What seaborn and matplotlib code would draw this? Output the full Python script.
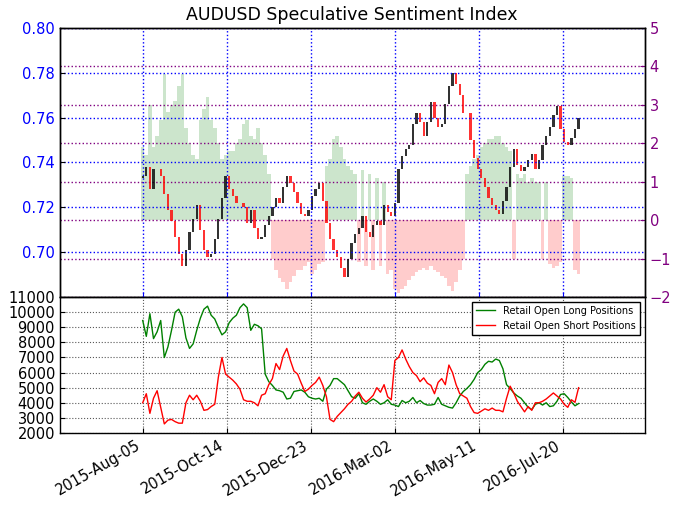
import numpy as np
import pandas as pd
import matplotlib
matplotlib.use("Agg")
import matplotlib.pyplot as plt
import matplotlib.dates as mdates
import seaborn as sns

# ---------------- data ----------------
start_date = "2015-08-05"
step_days = 3
first_open = 0.733

close = [0.734, 0.738, 0.728, 0.737, 0.737, 0.734, 0.726, 0.719, 0.714, 0.707,
         0.699, 0.694, 0.701, 0.709, 0.715, 0.721, 0.710, 0.701, 0.698, 0.699,
         0.706, 0.715, 0.724, 0.734, 0.728, 0.725, 0.722, 0.722, 0.720, 0.713,
         0.719, 0.711, 0.706, 0.707, 0.712, 0.716, 0.720, 0.724, 0.722, 0.729,
         0.734, 0.731, 0.727, 0.722, 0.717, 0.716, 0.719, 0.725, 0.728, 0.731,
         0.723, 0.713, 0.706, 0.701, 0.698, 0.693, 0.689, 0.697, 0.704, 0.708,
         0.711, 0.716, 0.709, 0.707, 0.712, 0.714, 0.712, 0.721, 0.718, 0.716,
         0.722, 0.737, 0.743, 0.746, 0.748, 0.757, 0.762, 0.758, 0.752, 0.758,
         0.767, 0.760, 0.756, 0.757, 0.766, 0.774, 0.780, 0.775, 0.770, 0.762,
         0.762, 0.750, 0.742, 0.737, 0.733, 0.729, 0.724, 0.721, 0.719, 0.717,
         0.723, 0.729, 0.738, 0.746, 0.739, 0.736, 0.738, 0.741, 0.744, 0.737,
         0.741, 0.748, 0.752, 0.756, 0.761, 0.765, 0.755, 0.749, 0.748, 0.751,
         0.755, 0.760]

sentiment = [1.9, 1.7, 3.0, 1.9, 2.2, 2.6, 3.8, 2.8, 3.0, 3.1,
             3.5, 3.8, 2.4, 2.0, 1.7, 1.6, 2.6, 2.9, 3.2, 2.6,
             2.4, 2.0, 1.6, 1.7, 1.8, 1.8, 2.0, 2.1, 2.5, 2.6,
             2.2, 2.1, 2.4, 2.0, 1.7, 1.2, -1.0, -1.3, -1.5, -1.6,
             -1.8, -1.6, -1.45, -1.3, -1.3, -1.2, -1.1, -1.4, -1.3, -1.15,
             -1.1, 1.4, 1.6, 2.1, 2.2, 1.9, 1.6, 1.4, 1.3, 1.2,
             -1.1, 1.3, -1.2, 1.2, -1.3, 1.1, -1.2, 1.0, -1.4, -1.3,
             -1.8, -1.9, -1.8, -1.7, -1.55, -1.45, -1.35, -1.3, -1.25, -1.3,
             -1.2, -1.3, -1.35, -1.45, -1.5, -1.7, -1.85, -1.6, -1.3, -1.0,
             1.2, 1.4, 1.6, 1.7, 1.9, 2.0, 2.1, 2.1, 2.2, 2.2,
             2.0, 1.9, 1.8, -1.0, 1.2, 1.1, 1.2, 1.0, 1.1, 1.0,
             1.0, -1.0, 1.0, -1.15, -1.25, -1.2, -1.1, 1.15, 1.15, 1.1,
             -1.3, -1.4]

long_pos = [9450, 8400, 9900, 8250, 8700, 9450, 7000, 7700, 8800, 10000,
            10200, 9700, 8300, 7600, 7900, 8800, 9600, 10200, 10400, 9800,
            9550, 9000, 8500, 8700, 9300, 9600, 9800, 10300, 10550, 10300,
            8800, 9200, 9100, 8900, 5900, 5400, 5150, 4850, 4800, 4700,
            4250, 4300, 4750, 4800, 4850, 4700, 4400, 4300, 4250, 4300,
            4100, 4900, 5150, 5600, 5600, 5400, 5200, 4800, 4400, 4300,
            4600, 4000, 3900, 4100, 4250, 4100, 3900, 4000, 4200, 3900,
            3850, 3750, 4150, 4000, 4100, 4350, 4000, 4150, 3950, 3850,
            3850, 3900, 4350, 3900, 3800, 3700, 3650, 4000, 4450, 4750,
            4950, 5200, 5550, 6000, 6200, 6550, 6750, 6700, 6900, 6800,
            6250, 5200, 4950, 4650, 4450, 4300, 4000, 3700, 3550, 3900,
            4000, 3850, 4000, 3750, 3800, 4100, 4550, 4600, 4350, 4050,
            3800, 3950]

short_pos = [4000, 4600, 3300, 4300, 4800, 3700, 2600, 2850, 2900, 2750,
             2650, 2650, 4000, 4500, 4200, 4500, 4100, 3500, 3550, 3750,
             3900, 5700, 7000, 5900, 5700, 5500, 5250, 4900, 4200, 4100,
             4100, 4000, 3800, 4500, 4600, 5200, 5600, 6600, 6200, 7100,
             7600, 6800, 6100, 5900, 5300, 4750, 4900, 5150, 5350, 5700,
             5150, 4400, 2900, 2750, 3100, 3350, 3600, 3900, 4100, 4450,
             4700, 4300, 4050, 4250, 4500, 5000, 4700, 5200, 4400, 4200,
             6800, 7000, 7500, 6900, 6400, 6000, 5800, 5400, 5650, 5300,
             5150, 4600, 5350, 5600, 5200, 6500, 6000, 5200, 4600, 4450,
             4300, 3750, 3350, 3300, 3450, 3600, 3500, 3650, 3500, 3500,
             3400, 4300, 5100, 4650, 4100, 3750, 3400, 3750, 3500, 4000,
             4000, 4100, 4250, 4450, 4650, 4450, 4250, 3900, 3700, 4200,
             4030, 5000]

tick_labels = ["2015-Aug-05", "2015-Oct-14", "2015-Dec-23",
               "2016-Mar-02", "2016-May-11", "2016-Jul-20"]
price_ticks = [0.70, 0.72, 0.74, 0.76, 0.78, 0.80]
sent_ticks = [-2, -1, 0, 1, 2, 3, 4, 5]
pos_ticks = [2000, 3000, 4000, 5000, 6000, 7000, 8000, 9000, 10000, 11000]
x_start, x_end = "2015-05-28", "2016-09-26"

# ---------------- figure ----------------
plt.rcParams["font.family"] = ["DejaVu Sans"]
fig = plt.figure(figsize=(6.8, 5.07), dpi=100)
ax = fig.add_axes([0.088, 0.414, 0.860, 0.531])
ax2 = ax.twinx()
ax3 = fig.add_axes([0.088, 0.146, 0.860, 0.268], sharex=ax)

dates = pd.date_range(start_date, periods=len(close), freq=f"{step_days}D")
xn = mdates.date2num(dates)
closes = np.array(close)
opens = np.r_[first_open, closes[:-1]]
up = closes >= opens
sent = np.array(sentiment)

# sentiment bars (right axis)
ax2.bar(xn, sent, width=3.0, color=np.where(sent >= 0, "green", "red"),
        alpha=0.2, linewidth=0, align="center")
ax2.set_ylim(-2, 5)
ax2.set_yticks(sent_ticks)
ax2.tick_params(axis="y", colors="purple", labelsize=10.5, direction="in")
ax2.grid(True, axis="y", color="purple", linestyle=":", linewidth=1)

# candles (left axis)
ax.bar(xn, closes - opens, bottom=opens, width=1.9,
       color=np.where(up, "black", "red"), alpha=0.8, linewidth=0)
ax.set_zorder(ax2.get_zorder() + 1)
ax.patch.set_visible(False)
ax.set_ylim(0.68, 0.80)
ax.set_yticks(price_ticks)
ax.set_yticklabels([f"{v:.2f}" for v in price_ticks])
ax.tick_params(axis="y", labelcolor="blue", labelsize=10.5, direction="in")
ax.tick_params(axis="x", labelbottom=False, direction="in", color="blue")
ax.grid(True, color="blue", linestyle=":", linewidth=1)
ax.set_title("AUDUSD Speculative Sentiment Index", fontsize=12.5)

# positions (bottom panel)
df = pd.DataFrame({"x": xn,
                   "Retail Open Long Positions": long_pos,
                   "Retail Open Short Positions": short_pos})
df = df.melt("x", var_name="series", value_name="positions")
sns.lineplot(data=df, x="x", y="positions", hue="series",
             palette=["green", "red"], linewidth=1, ax=ax3)
ax3.set_ylim(2000, 11000)
ax3.set_yticks(pos_ticks)
ax3.tick_params(axis="both", labelsize=10.5, direction="in")
ax3.set_xlabel("")
ax3.set_ylabel("")
ax3.grid(True, color="0.35", linestyle=":", linewidth=0.8)
h, l = ax3.get_legend_handles_labels()
ax3.legend(h, l, loc="upper right", fontsize=7, fancybox=False,
           edgecolor="black", framealpha=1)

tick_x = mdates.date2num(pd.to_datetime(tick_labels, format="%Y-%b-%d"))
ax3.set_xticks(tick_x)
ax3.set_xticklabels(tick_labels, rotation=30, ha="right")
ax3.set_xlim(mdates.date2num(pd.Timestamp(x_start)),
             mdates.date2num(pd.Timestamp(x_end)))

for a in (ax, ax2, ax3):
    for s in a.spines.values():
        s.set_color("black")
        s.set_linewidth(1)

fig.savefig("out.png", dpi=100)
